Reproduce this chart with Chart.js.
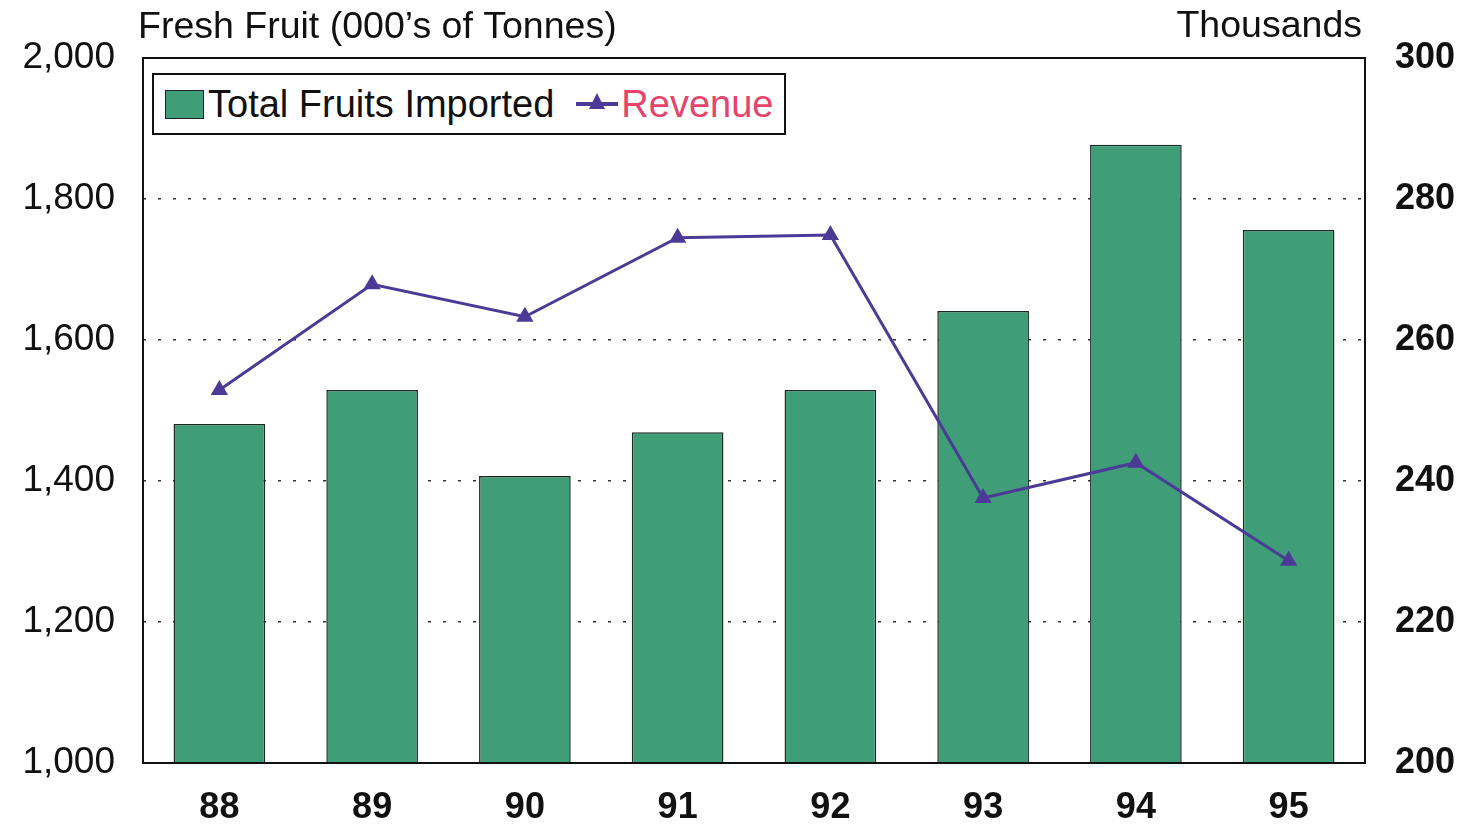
<!DOCTYPE html>
<html>
<head>
<meta charset="utf-8">
<script src="https://cdn.jsdelivr.net/npm/chart.js@4"></script>
<style>
  html, body { margin: 0; padding: 0; background: #fff; }
  #wrap { position: relative; width: 1464px; height: 824px; }
  #legend {
    position: absolute; left: 152px; top: 73px; width: 630px; height: 58px;
    border: 2px solid #111; background: #fff;
    font-family: "Liberation Sans", Arial, sans-serif; font-size: 38px;
    display: flex; align-items: center; box-sizing: content-box; color: #111;
  }
  #legend .sw { display: inline-block; width: 37px; height: 27px; background: #3f9e78; border: 1px solid #222; margin-left: 11px; margin-right: 4px; }
  #legend .ln { display: inline-block; position: relative; width: 42px; height: 4px; background: #4b3a96; margin-left: 22px; margin-right: 3px; }
  #legend .ln::after { content: ""; position: absolute; left: 13px; top: -9px; border-left: 8px solid transparent; border-right: 8px solid transparent; border-bottom: 16px solid #4b3a96; }
</style>
</head>
<body>
<div id="wrap">
  <canvas id="grafico" width="1464" height="824"></canvas>
  <div id="legend"><span class="sw"></span><span>Total Fruits Imported</span><span class="ln"></span><span style="color:#e5446c">Revenue</span></div>
</div>
<script>
const anos = ["88", "89", "90", "91", "92", "93", "94", "95"];
const frutasImportadas = [1481, 1529, 1407, 1469, 1529, 1641, 1877, 1756];
const receita = [252.9, 267.9, 263.3, 274.5, 274.9, 237.6, 242.6, 228.7];
const ticksEsquerda = [1000, 1200, 1400, 1600, 1800, 2000];
const ticksDireita = [200, 220, 240, 260, 280, 300];

const fonte = "'Liberation Sans', Arial, sans-serif";

// titulos em cima dos eixos e moldura da area do grafico
const moldura = {
    id: "moldura",
    afterDraw(chart) {
        const { ctx, chartArea: a } = chart;
        ctx.save();
        ctx.strokeStyle = "#111";
        ctx.lineWidth = 2;
        ctx.strokeRect(a.left, a.top, a.right - a.left, a.bottom - a.top);
        ctx.fillStyle = "#111";
        ctx.font = "37.5px " + fonte;
        ctx.textBaseline = "middle";
        ctx.textAlign = "left";
        ctx.fillText("Fresh Fruit (000\u2019s of Tonnes)", 138, 28);
        ctx.textAlign = "right";
        ctx.fillText("Thousands", 1362, 27);
        ctx.restore();
    }
};

new Chart(document.getElementById("grafico"), {
    type: "bar",
    data: {
        labels: anos,
        datasets: [
            {
                type: "line",
                label: "Revenue",
                data: receita,
                yAxisID: "y2",
                borderColor: "#4b3a96",
                backgroundColor: "#4b3a96",
                borderWidth: 3,
                pointStyle: "triangle",
                pointRadius: 7,
                tension: 0,
                order: 0
            },
            {
                label: "Total Fruits Imported",
                data: frutasImportadas,
                yAxisID: "y",
                backgroundColor: "#3f9e78",
                borderColor: "#1a2a22",
                borderWidth: 1.5,
                categoryPercentage: 0.6,
                barPercentage: 1,
                order: 1
            }
        ]
    },
    options: {
        responsive: false,
        animation: false,
        layout: { padding: { top: 58, left: 0, right: 0, bottom: 0 } },
        plugins: { legend: { display: false }, tooltip: { enabled: false } },
        scales: {
            x: {
                grid: { display: false },
                border: { display: false },
                ticks: { color: "#111", font: { family: fonte, size: 36, weight: "bold" }, padding: 15 },
                afterFit(s) { s.height = 61; }
            },
            y: {
                position: "left",
                min: 1000,
                max: 2000,
                afterBuildTicks(s) { s.ticks = ticksEsquerda.map(v => ({ value: v })); },
                ticks: {
                    color: "#111",
                    font: { family: fonte, size: 37 },
                    padding: 28,
                    callback: v => v.toLocaleString("en-US")
                },
                grid: {
                    drawTicks: false,
                    color: ctx => (ctx.tick && (ctx.tick.value === 1000 || ctx.tick.value === 2000)) ? "rgba(0,0,0,0)" : "#333",
                    lineWidth: 1.5
                },
                border: { display: false, dash: [3, 12] },
                afterFit(s) { s.width = 143; }
            },
            y2: {
                position: "right",
                min: 200,
                max: 300,
                afterBuildTicks(s) { s.ticks = ticksDireita.map(v => ({ value: v })); },
                ticks: { color: "#111", font: { family: fonte, size: 36, weight: "bold" }, padding: 22 },
                grid: { display: false },
                border: { display: false },
                afterFit(s) { s.width = 99; }
            }
        }
    },
    plugins: [moldura]
});
</script>
</body>
</html>
